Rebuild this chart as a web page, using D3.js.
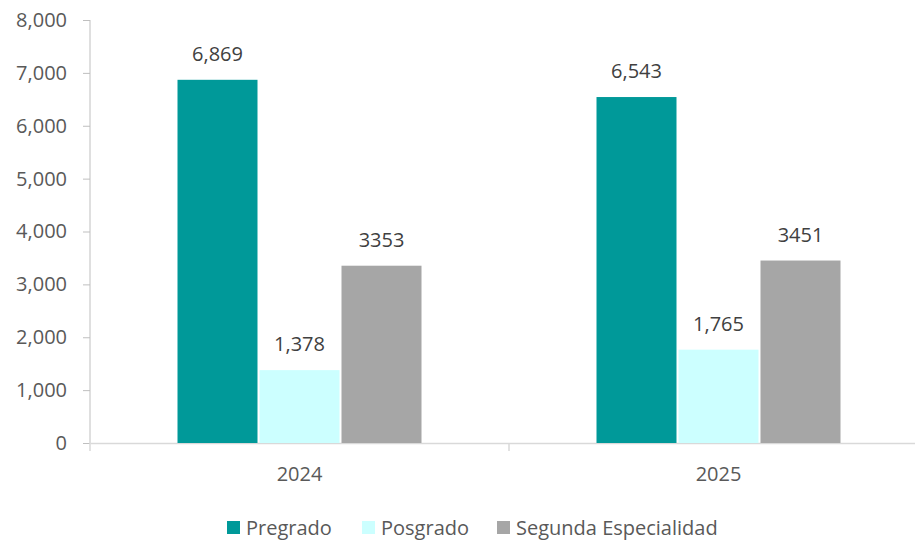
<!DOCTYPE html>
<html><head><meta charset="utf-8">
<script src="https://cdn.jsdelivr.net/npm/d3@7/dist/d3.min.js"></script>
<style>body{margin:0;background:#fff;}svg{display:block;font-family:"Open Sans",sans-serif;}</style>
</head><body>
<svg id="c" width="915" height="542"></svg>
<script>
const years = ["2024", "2025"];
const seriesNames = ["Pregrado", "Posgrado", "Segunda Especialidad"];
const pregrado = [6869, 6543];
const posgrado = [1378, 1765];
const segunda = [3353, 3451];
const labelText = [["6,869","6,543"],["1,378","1,765"],["3353","3451"]];
const yTicks = [0,1000,2000,3000,4000,5000,6000,7000,8000];
const colors = ["#009999", "#CCFFFF", "#A6A6A6"];
const values = [pregrado, posgrado, segunda];

const svg = d3.select("#c");
const x = d3.scaleBand().domain(years).range([90, 928]).paddingInner(0).paddingOuter(0);
const x1 = d3.scaleBand().domain(seriesNames).range([87.5, 331.5]).paddingInner(2/82).paddingOuter(0);
const y = d3.scaleLinear().domain([0, 8000]).range([443, 20]);

// y axis
const ya = svg.append("g").attr("transform","translate(90,0)")
  .call(d3.axisLeft(y).tickValues(yTicks).tickSize(7).tickPadding(16).tickFormat(d3.format(",")));
ya.select(".domain").attr("stroke","#BFBFBF").attr("d","M0,20V443");
ya.selectAll(".tick line").attr("stroke","#BFBFBF");
ya.selectAll("text").attr("fill","#595959").style("font-size","20px").style("font-family","'Open Sans',sans-serif");

// x axis
const xa = svg.append("g").attr("transform","translate(0,443)")
  .call(d3.axisBottom(x).tickSize(0).tickPadding(24));
xa.select(".domain").attr("stroke","#D9D9D9").attr("stroke-width",1.5);
xa.selectAll("text").attr("fill","#595959").style("font-size","20px").style("font-family","'Open Sans',sans-serif");
// category boundary ticks
svg.append("g").selectAll("line").data([90, x("2025"), 928]).join("line")
  .attr("x1",d=>d).attr("x2",d=>d).attr("y1",443).attr("y2",451).attr("stroke","#D9D9D9").attr("stroke-width",1.5);

// bars
seriesNames.forEach((s, si) => {
  const g = svg.append("g");
  g.selectAll("rect").data(years).join("rect")
    .attr("x", (d)=>x(d)+x1(s))
    .attr("width", x1.bandwidth())
    .attr("y", (d,i)=>y(values[si][i]))
    .attr("height", (d,i)=>y(0)-y(values[si][i]))
    .attr("fill", colors[si]);
  g.selectAll("text").data(years).join("text")
    .attr("x", (d)=>x(d)+x1(s)+x1.bandwidth()/2)
    .attr("y", (d,i)=>y(values[si][i]) - 19)
    .attr("text-anchor","middle")
    .attr("fill","#404040")
    .style("font-size","20px")
    .text((d,i)=>labelText[si][i]);
});

// legend
const legX = [227, 362, 497];
const lg = svg.append("g");
seriesNames.forEach((s, i) => {
  lg.append("rect").attr("x", legX[i]).attr("y", 521).attr("width", 13).attr("height", 13).attr("fill", colors[i]);
  lg.append("text").attr("x", legX[i]+19).attr("y", 535).attr("fill","#595959").style("font-size","20px").text(s);
});
</script>
</body></html>
